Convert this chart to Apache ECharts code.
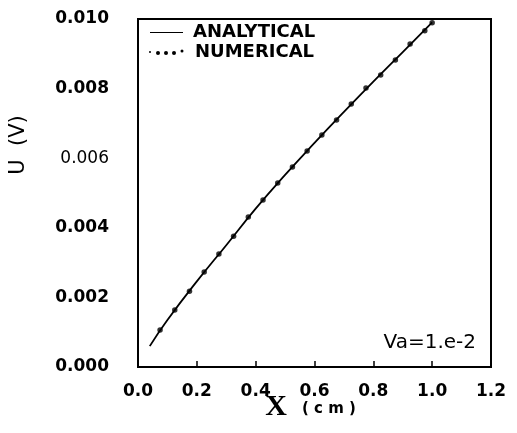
<!DOCTYPE html>
<html>
<head>
<meta charset="utf-8">
<script src="https://cdn.jsdelivr.net/npm/echarts@6/dist/echarts.min.js"></script>
<style>
  html,body{margin:0;padding:0;background:#fff;}
  #chart{width:517px;height:433px;}
</style>
</head>
<body>
<div id="chart"></div>
<script>
// analytical curve
const xAnalytical = [0.04, 0.1, 0.2, 0.3, 0.4, 0.5, 0.6, 0.7, 0.8, 0.9, 1.0];
const uAnalytical = [0.0006, 0.00135, 0.00246, 0.0035, 0.00455, 0.00552, 0.00644, 0.00733, 0.0082, 0.00905, 0.0099];

// numerical points (dots along the line)
const xNumerical = [0.075, 0.125, 0.175, 0.225, 0.275, 0.325, 0.375, 0.425, 0.475, 0.525, 0.575, 0.625, 0.675, 0.725, 0.775, 0.825, 0.875, 0.925, 0.975, 1.0];
const uNumerical = [0.00106, 0.00164, 0.00218, 0.00273, 0.00325, 0.00376, 0.00431, 0.0048, 0.00529, 0.00575, 0.00621, 0.00667, 0.0071, 0.00756, 0.00802, 0.00839, 0.00882, 0.00928, 0.00966, 0.00989];

const xTicks = [0.0, 0.2, 0.4, 0.6, 0.8, 1.0, 1.2];
const yTicks = [0.000, 0.002, 0.004, 0.006, 0.008, 0.010];

const FONT = 'DejaVu Sans';

const chart = echarts.init(document.getElementById('chart'), null, {renderer: 'canvas'});

const zip = (xs, ys) => xs.map((x, i) => [x, ys[i]]);

chart.setOption({
    animation: false,
    backgroundColor: '#fff',
    grid: {
        left: 138, right: 26, top: 19, bottom: 66,
        show: true, borderColor: '#000', borderWidth: 2
    },
    xAxis: {
        type: 'value',
        min: xTicks[0], max: xTicks[xTicks.length - 1], interval: 0.2,
        splitLine: {show: false},
        axisLine: {show: true, lineStyle: {color: '#000', width: 2}},
        axisTick: {show: true, inside: true, length: 6, lineStyle: {color: '#000', width: 1.5}},
        axisLabel: {
            margin: 16, color: '#000', fontFamily: FONT, fontWeight: 'bold', fontSize: 17,
            formatter: v => v.toFixed(1)
        }
    },
    yAxis: {
        type: 'value',
        min: yTicks[0], max: yTicks[yTicks.length - 1], interval: 0.002,
        splitLine: {show: false},
        axisLine: {show: true, lineStyle: {color: '#000', width: 2}},
        axisTick: {show: false},
        axisLabel: {
            margin: 29, color: '#000', fontFamily: FONT, fontWeight: 'bold', fontSize: 17,
            formatter: v => {
                const s = v.toFixed(3);
                return Math.abs(v - 0.006) < 1e-9 ? '{thin|' + s + '}' : s;
            },
            rich: {
                thin: {fontFamily: FONT, fontWeight: 'normal', fontSize: 17, color: '#000'}
            }
        }
    },
    series: [
        {
            name: 'ANALYTICAL',
            type: 'line',
            data: zip(xAnalytical, uAnalytical),
            smooth: true,
            showSymbol: false,
            lineStyle: {color: '#000', width: 1.8},
            z: 2
        },
        {
            name: 'NUMERICAL',
            type: 'scatter',
            data: zip(xNumerical, uNumerical),
            symbol: 'circle',
            symbolSize: 5.5,
            itemStyle: {color: '#000'},
            z: 3
        }
    ],
    graphic: [
        // legend
        {type: 'line', shape: {x1: 150, y1: 32.5, x2: 183, y2: 32.5}, style: {stroke: '#000', lineWidth: 1}},
        {type: 'text', x: 193, y: 32, style: {text: 'ANALYTICAL', fill: '#000', font: 'bold 18px "DejaVu Sans"', textVerticalAlign: 'middle'}},
        {type: 'circle', shape: {cx: 150, cy: 52, r: 1}, style: {fill: '#000'}},
        {type: 'circle', shape: {cx: 158, cy: 53, r: 2}, style: {fill: '#000'}},
        {type: 'circle', shape: {cx: 166, cy: 53, r: 2}, style: {fill: '#000'}},
        {type: 'circle', shape: {cx: 174, cy: 53, r: 2}, style: {fill: '#000'}},
        {type: 'circle', shape: {cx: 182, cy: 51, r: 1.5}, style: {fill: '#000'}},
        {type: 'text', x: 195, y: 52, style: {text: 'NUMERICAL', fill: '#000', font: 'bold 18px "DejaVu Sans"', textVerticalAlign: 'middle'}},
        // annotation
        {type: 'text', x: 476, y: 343, style: {text: 'Va=1.e-2', fill: '#000', font: '20px "DejaVu Sans"', textAlign: 'right', textVerticalAlign: 'middle'}},
        // axis titles
        {type: 'text', x: 19, y: 145, rotation: Math.PI / 2, style: {text: 'U  (V)', fill: '#000', font: '21px "DejaVu Sans"', textAlign: 'center', textVerticalAlign: 'middle'}},
        {type: 'text', x: 276, y: 407, style: {text: 'X', fill: '#000', font: 'bold 30px "Liberation Serif"', textAlign: 'center', textVerticalAlign: 'middle'}},
        {type: 'text', x: 302, y: 409, style: {text: '( c m )', fill: '#000', font: 'bold 15px "DejaVu Sans"', textVerticalAlign: 'middle'}}
    ]
});
</script>
</body>
</html>
